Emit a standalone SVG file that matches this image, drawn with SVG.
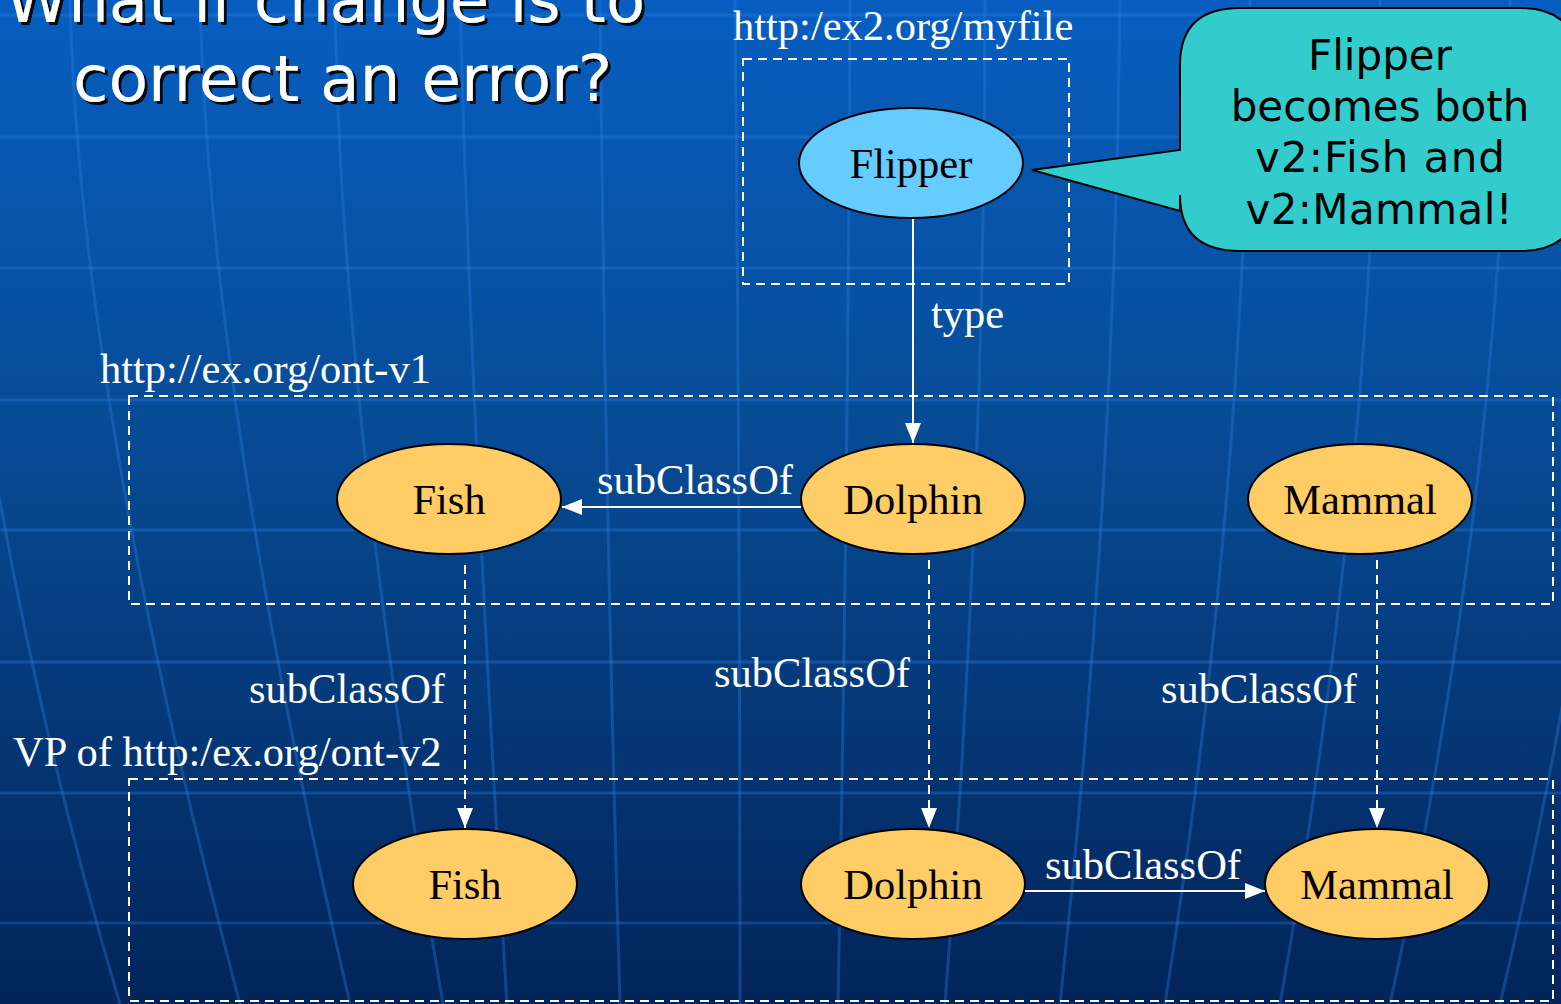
<svg xmlns="http://www.w3.org/2000/svg" width="1561" height="1004" viewBox="0 0 1561 1004">
<defs>
<linearGradient id="bg" x1="0" y1="0" x2="0" y2="1">
<stop offset="0" stop-color="#075ec0"/>
<stop offset="0.45" stop-color="#074a93"/>
<stop offset="1" stop-color="#02245a"/>
</linearGradient>
<marker id="ah" viewBox="0 0 20 16" refX="20" refY="8" markerWidth="20" markerHeight="16" markerUnits="userSpaceOnUse" orient="auto">
<path d="M0,0 L20,8 L0,16 Z" fill="#fff"/>
</marker>
<filter id="sh" x="-5%" y="-5%" width="110%" height="120%">
<feDropShadow dx="3" dy="3" stdDeviation="0.5" flood-color="#000" flood-opacity="0.9"/>
</filter>
</defs>
<style>
.grid{fill:none;stroke:#2a80e0;stroke-opacity:0.35;stroke-width:3}
.box{fill:none;stroke:#fff;stroke-width:2;stroke-dasharray:9,6}
.edge{fill:none;stroke:#fff;stroke-width:2}
.dash{stroke-dasharray:9,6}
.cls{fill:#ffcc66;stroke:#000;stroke-width:2}
.inst{fill:#66ccff;stroke:#000;stroke-width:2}
.nt{font-family:"Liberation Serif",serif;font-size:42.5px;fill:#000;text-anchor:middle}
.lt{font-family:"Liberation Serif",serif;font-size:42.5px;fill:#fff}
.title{font-family:"DejaVu Sans",sans-serif;font-size:64px;fill:#fff}
.ct{font-family:"DejaVu Sans",sans-serif;font-size:42px;fill:#000;text-anchor:middle}
</style>
<rect width="1561" height="1004" fill="url(#bg)"/>
<g id="grid">
<path class="grid" d="M0,15H1561M0,137H1561M0,268H1561M0,400H1561M0,530H1561M0,662H1561M0,793H1561M0,923H1561"/>
<path class="grid" d="M-60,0 Q-30,500 120,1004"/>
<path class="grid" d="M70,0 Q80,400 240,1004"/>
<path class="grid" d="M200,0 Q210,400 350,1004"/>
<path class="grid" d="M335,0 Q340,400 443,1004"/>
<path class="grid" d="M460,0 Q470,400 507,1004"/>
<path class="grid" d="M600,0 Q605,500 620,1004"/>
<path class="grid" d="M735,0 Q740,500 740,1004"/>
<path class="grid" d="M850,0 Q848,500 838,1004"/>
<path class="grid" d="M985,0 Q985,500 945,1004"/>
<path class="grid" d="M1120,0 Q1115,500 1060,1004"/>
<path class="grid" d="M1250,0 Q1245,500 1165,1004"/>
<path class="grid" d="M1380,0 Q1370,500 1280,1004"/>
<path class="grid" d="M1510,0 Q1500,500 1390,1004"/>
<path class="grid" d="M1640,0 Q1620,500 1500,1004"/>
</g>
<g id="title" filter="url(#sh)">
<text class="title" x="5" y="22" textLength="640" lengthAdjust="spacingAndGlyphs">What if change is to</text>
<text class="title" x="73" y="101" textLength="539" lengthAdjust="spacingAndGlyphs">correct an error?</text>
</g>
<g id="containers">
<rect class="box" x="743" y="59" width="326" height="225"/>
<text class="lt" x="733" y="40">http:/ex2.org/myfile</text>
<rect class="box" x="129" y="396" width="1424" height="208"/>
<text class="lt" x="100" y="383">http://ex.org/ont-v1</text>
<rect class="box" x="129" y="779" width="1424" height="222"/>
<text class="lt" x="13" y="766">VP of http:/ex.org/ont-v2</text>
</g>
<g id="connectors">
<line class="edge" x1="913" y1="219" x2="913" y2="443" marker-end="url(#ah)"/>
<text class="lt" x="931" y="328">type</text>
<line class="edge" x1="801" y1="507" x2="562" y2="507" marker-end="url(#ah)"/>
<text class="lt" x="597" y="494">subClassOf</text>
<line class="edge dash" x1="465" y1="565" x2="465" y2="828" marker-end="url(#ah)"/>
<text class="lt" x="445" y="703" text-anchor="end">subClassOf</text>
<line class="edge dash" x1="929" y1="560" x2="929" y2="828" marker-end="url(#ah)"/>
<text class="lt" x="910" y="687" text-anchor="end">subClassOf</text>
<line class="edge dash" x1="1377" y1="560" x2="1377" y2="828" marker-end="url(#ah)"/>
<text class="lt" x="1357" y="703" text-anchor="end">subClassOf</text>
<line class="edge" x1="1025" y1="891" x2="1265" y2="891" marker-end="url(#ah)"/>
<text class="lt" x="1045" y="879">subClassOf</text>
</g>
<g id="flipper">
<ellipse class="inst" cx="911" cy="163" rx="112" ry="55"/>
<text class="nt" x="911" y="178">Flipper</text>
</g>
<g id="fish-v1">
<ellipse class="cls" cx="449" cy="499" rx="112" ry="55"/>
<text class="nt" x="449" y="514">Fish</text>
</g>
<g id="dolphin-v1">
<ellipse class="cls" cx="913" cy="499" rx="112" ry="55"/>
<text class="nt" x="913" y="514">Dolphin</text>
</g>
<g id="mammal-v1">
<ellipse class="cls" cx="1360" cy="499" rx="112" ry="55"/>
<text class="nt" x="1360" y="514">Mammal</text>
</g>
<g id="fish-v2">
<ellipse class="cls" cx="465" cy="884" rx="112" ry="55"/>
<text class="nt" x="465" y="899">Fish</text>
</g>
<g id="dolphin-v2">
<ellipse class="cls" cx="913" cy="884" rx="112" ry="55"/>
<text class="nt" x="913" y="899">Dolphin</text>
</g>
<g id="mammal-v2">
<ellipse class="cls" cx="1377" cy="884" rx="112" ry="55"/>
<text class="nt" x="1377" y="899">Mammal</text>
</g>
<g id="callout">
<path d="M1240,8 H1520 Q1580,8 1580,70 V190 Q1580,251 1520,251 H1240 Q1180,251 1180,195 V211 L1032,170 L1180,150 V65 Q1180,8 1240,8 Z" fill="#33cccc" stroke="#000" stroke-width="2"/>
<text class="ct" x="1380" y="70">Flipper</text>
<text class="ct" x="1380" y="121">becomes both</text>
<text class="ct" x="1380" y="172" textLength="250" lengthAdjust="spacing">v2:Fish and</text>
<text class="ct" x="1379" y="224" textLength="267" lengthAdjust="spacing">v2:Mammal!</text>
</g>
</svg>
